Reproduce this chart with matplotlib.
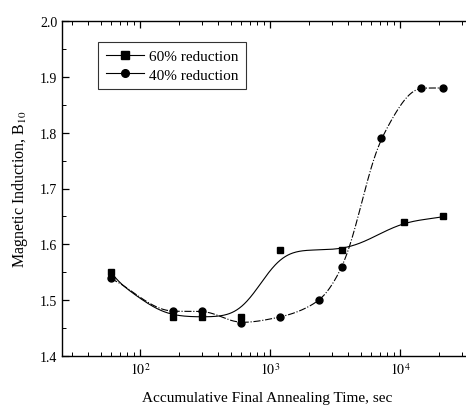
import numpy as np
import matplotlib.pyplot as plt
from matplotlib.ticker import LogLocator, MultipleLocator, FixedLocator, FormatStrFormatter

# data
time_60 = [60, 180, 300, 600, 1200, 3600, 10800, 21600]
b10_60 = [1.55, 1.47, 1.47, 1.47, 1.59, 1.59, 1.64, 1.65]
time_40 = [60, 180, 300, 600, 1200, 2400, 3600, 7200, 14400, 21600]
b10_40 = [1.54, 1.48, 1.48, 1.46, 1.47, 1.50, 1.56, 1.79, 1.88, 1.88]


def pchip(x, y, xn):
    # shape preserving cubic through the points (in log time)
    x = np.asarray(x, float)
    y = np.asarray(y, float)
    h = np.diff(x)
    d = np.diff(y) / h
    m = np.zeros_like(y)
    for k in range(1, len(x) - 1):
        if d[k - 1] * d[k] > 0:
            w1 = 2 * h[k] + h[k - 1]
            w2 = h[k] + 2 * h[k - 1]
            m[k] = (w1 + w2) / (w1 / d[k - 1] + w2 / d[k])
    m[0] = d[0]
    m[-1] = d[-1]
    idx = np.clip(np.searchsorted(x, xn) - 1, 0, len(h) - 1)
    t = (xn - x[idx]) / h[idx]
    h00 = 2 * t**3 - 3 * t**2 + 1
    h10 = t**3 - 2 * t**2 + t
    h01 = -2 * t**3 + 3 * t**2
    h11 = t**3 - t**2
    return h00 * y[idx] + h10 * h[idx] * m[idx] + h01 * y[idx + 1] + h11 * h[idx] * m[idx + 1]


def smooth_curve(tx, by, sigma):
    # pchip in log time, then a gaussian smoothing like a fitted trend line
    lx = np.log10(tx)
    xs = np.linspace(lx[0], lx[-1], 400)
    ys = pchip(lx, by, xs)
    if sigma > 0:
        w = np.exp(-0.5 * ((xs[:, None] - xs[None, :]) / sigma) ** 2)
        sm = (w @ ys) / w.sum(axis=1)
        # keep the end points on the data
        edge = np.exp(-np.minimum(xs - xs[0], xs[-1] - xs) / sigma)
        ys = sm + (ys - sm) * edge
    return 10**xs, ys


plt.rcParams['font.family'] = ['Liberation Serif', 'DejaVu Serif']
plt.rcParams['mathtext.fontset'] = 'stix'

fig = plt.figure(figsize=(4.66, 4.10), dpi=100)
ax = fig.add_axes([62 / 466, 53 / 410, 410 / 466, 335 / 410])

for tx, by, mk, ls, sig, lab in [(time_60, b10_60, 's', '-', 0.13, '60% reduction'),
                                 (time_40, b10_40, 'o', '-.', 0.04, '40% reduction')]:
    cx, cy = smooth_curve(tx, by, sig)
    ax.plot(cx, cy, color='black', lw=0.8, ls=ls)
    ax.plot(tx, by, ls='none', marker=mk, color='black', markersize=5)
    ax.plot([], [], color='black', lw=0.8, ls='-', marker=mk, markersize=5.5, label=lab)

ax.set_xscale('log')
ax.set_xlim(10**1.4, 10**(1.4 + 410 / 130))
ax.set_ylim(1.4, 2.0)
ax.yaxis.set_major_locator(MultipleLocator(0.1))
ax.yaxis.set_minor_locator(MultipleLocator(0.05))
ax.yaxis.set_major_formatter(FormatStrFormatter('%.1f'))
ax.xaxis.set_major_locator(FixedLocator([1e2, 1e3, 1e4]))
ax.xaxis.set_minor_locator(LogLocator(base=10, subs=np.arange(2, 10), numticks=20))
ax.set_xticklabels(['$10^2$', '$10^3$', '$10^4$'])
ax.tick_params(which='both', direction='in', top=True, right=False, labelsize=10)
ax.tick_params(which='major', length=5, width=0.9)
ax.tick_params(which='minor', length=3, width=0.7)
ax.spines['right'].set_visible(False)
for s in ['left', 'bottom', 'top']:
    ax.spines[s].set_linewidth(1.0)

ax.set_xlabel('Accumulative Final Annealing Time, sec', fontsize=11, labelpad=10)
ax.set_ylabel('Magnetic Induction, B$_{10}$', fontsize=11.5, labelpad=7)

leg = ax.legend(loc='upper left', bbox_to_anchor=(0.07, 0.96), fontsize=11,
                frameon=True, fancybox=False, edgecolor='black', handlelength=2.5,
                borderpad=0.5, labelspacing=0.3, handletextpad=0.3)
leg.get_frame().set_linewidth(0.8)

fig.savefig('out.png', dpi=100)
